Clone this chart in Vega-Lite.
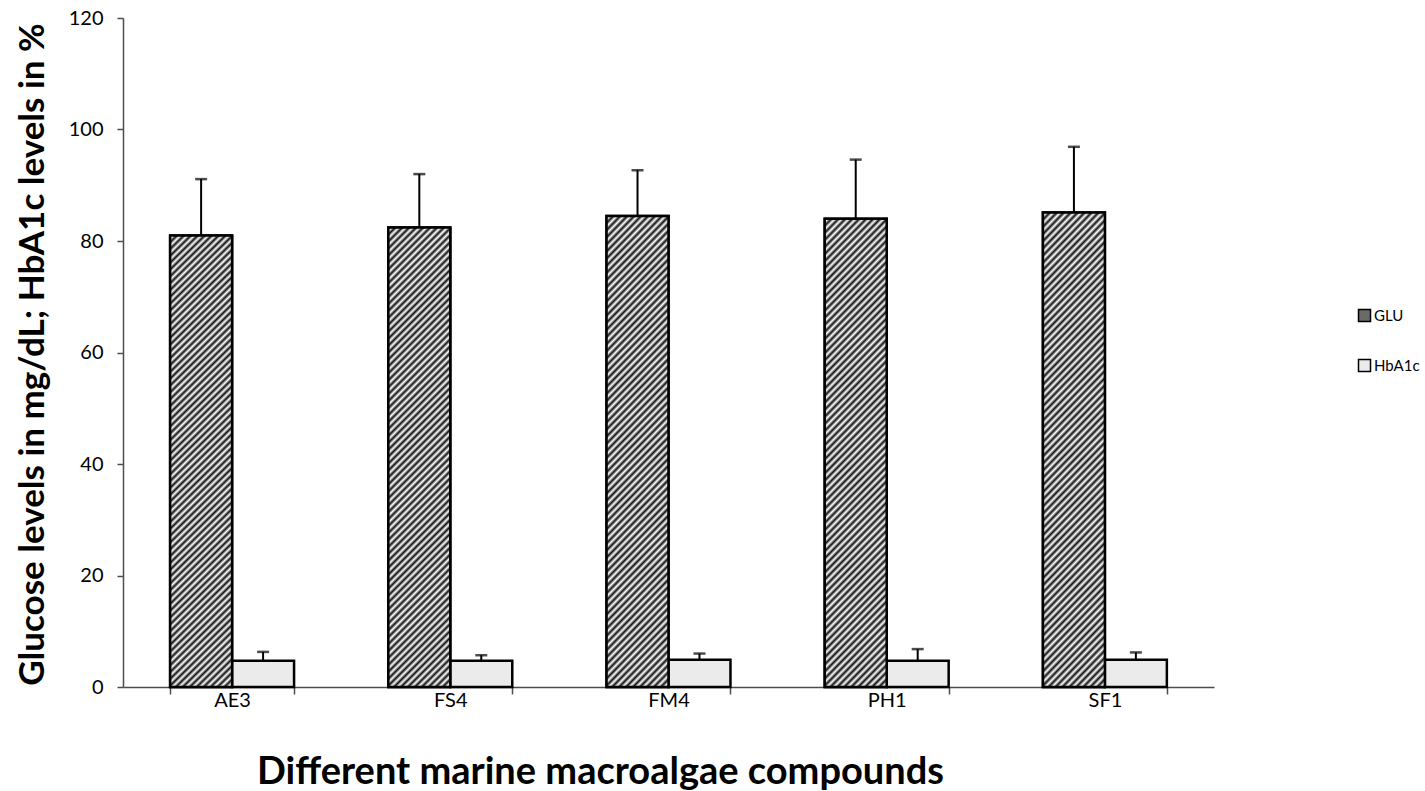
{
  "$schema": "https://vega.github.io/schema/vega-lite/v6.json",
  "autosize": {"type": "none"},
  "padding": {"left": 123, "top": 18, "right": 211, "bottom": 104},
  "width": 1091,
  "height": 669,
  "background": "white",
  "config": {
    "view": {"stroke": null},
    "font": "Lato",
    "axis": {
      "domainColor": "#4d4d4d",
      "domainWidth": 1.5,
      "tickColor": "#4d4d4d",
      "tickWidth": 1.5,
      "labelColor": "#000000",
      "labelFont": "Lato",
      "labelFontSize": 20,
      "titleColor": "#000000",
      "titleFont": "Lato",
      "titleFontWeight": "bold",
      "grid": false
    },
    "legend": {
      "orient": "none",
      "legendX": 1234,
      "legendY": 290,
      "padding": 0,
      "symbolType": "square",
      "symbolSize": 144,
      "symbolStrokeColor": "#000000",
      "symbolStrokeWidth": 1.5,
      "symbolOpacity": 1,
      "labelFont": "Lato",
      "labelFontSize": 15,
      "labelColor": "#000000",
      "labelOffset": 2,
      "rowPadding": 31
    }
  },
  "data": {
    "values": [
      {"compound": "AE3", "series": "GLU", "value": 81.0, "upper": 91.1},
      {"compound": "AE3", "series": "HbA1c", "value": 4.7, "upper": 6.3},
      {"compound": "FS4", "series": "GLU", "value": 82.4, "upper": 92.0},
      {"compound": "FS4", "series": "HbA1c", "value": 4.7, "upper": 5.7},
      {"compound": "FM4", "series": "GLU", "value": 84.5, "upper": 92.7},
      {"compound": "FM4", "series": "HbA1c", "value": 4.9, "upper": 6.0},
      {"compound": "PH1", "series": "GLU", "value": 84.0, "upper": 94.6},
      {"compound": "PH1", "series": "HbA1c", "value": 4.7, "upper": 6.8},
      {"compound": "SF1", "series": "GLU", "value": 85.1, "upper": 96.9},
      {"compound": "SF1", "series": "HbA1c", "value": 4.9, "upper": 6.2}
    ]
  },
  "encoding": {
    "x": {
      "field": "compound",
      "type": "nominal",
      "sort": ["AE3", "FS4", "FM4", "PH1", "SF1"],
      "scale": {"paddingInner": 0.432, "paddingOuter": 0.216},
      "axis": {
        "title": "Different marine macroalgae compounds",
        "labelAngle": 0,
        "tickBand": "extent",
        "tickSize": 7,
        "labelBaseline": "alphabetic",
        "labelPadding": 12,
        "titleFontSize": 38,
        "titleX": 477,
        "titleY": 96,
        "titleBaseline": "alphabetic",
        "titleAnchor": "middle"
      }
    },
    "xOffset": {"field": "series", "type": "nominal", "scale": {"domain": ["GLU", "HbA1c"]}},
    "y": {
      "field": "value",
      "type": "quantitative",
      "scale": {"domain": [0, 120], "nice": false},
      "axis": {
        "title": "Glucose levels in mg/dL; HbA1c levels in %",
        "values": [0, 20, 40, 60, 80, 100, 120],
        "tickSize": 6,
        "labelPadding": 14,
        "titleFontSize": 35,
        "titleAngle": 270,
        "titleX": -91,
        "titleY": 336,
        "titleAlign": "center",
        "titleBaseline": "middle"
      }
    }
  },
  "layer": [
    {
      "mark": {"type": "bar", "stroke": "#000000", "strokeWidth": 2.5},
      "encoding": {
        "fill": {
          "field": "series",
          "type": "nominal",
          "scale": {"domain": ["GLU", "HbA1c"], "range": ["#6a6a6a", "#ebebeb"]},
          "legend": {"title": null}
        }
      }
    },
    {
      "transform": [{"filter": "datum.series === 'GLU'"}],
      "mark": {
        "type": "bar",
        "stroke": "#000000",
        "strokeWidth": 2.5,
        "fill": {
          "gradient": "linear",
          "x1": 0, "y1": 0, "x2": 0.15, "y2": 1.113,
          "stops": [
            {"offset": 0, "color": "#111"}, {"offset": 0.0067, "color": "#fff"}, {"offset": 0.0133, "color": "#111"},
            {"offset": 0.02, "color": "#fff"}, {"offset": 0.0267, "color": "#111"}, {"offset": 0.0333, "color": "#fff"},
            {"offset": 0.04, "color": "#111"}, {"offset": 0.0467, "color": "#fff"}, {"offset": 0.0533, "color": "#111"},
            {"offset": 0.06, "color": "#fff"}, {"offset": 0.0667, "color": "#111"}, {"offset": 0.0733, "color": "#fff"},
            {"offset": 0.08, "color": "#111"}, {"offset": 0.0867, "color": "#fff"}, {"offset": 0.0933, "color": "#111"},
            {"offset": 0.1, "color": "#fff"}, {"offset": 0.1067, "color": "#111"}, {"offset": 0.1133, "color": "#fff"},
            {"offset": 0.12, "color": "#111"}, {"offset": 0.1267, "color": "#fff"}, {"offset": 0.1333, "color": "#111"},
            {"offset": 0.14, "color": "#fff"}, {"offset": 0.1467, "color": "#111"}, {"offset": 0.1533, "color": "#fff"},
            {"offset": 0.16, "color": "#111"}, {"offset": 0.1667, "color": "#fff"}, {"offset": 0.1733, "color": "#111"},
            {"offset": 0.18, "color": "#fff"}, {"offset": 0.1867, "color": "#111"}, {"offset": 0.1933, "color": "#fff"},
            {"offset": 0.2, "color": "#111"}, {"offset": 0.2067, "color": "#fff"}, {"offset": 0.2133, "color": "#111"},
            {"offset": 0.22, "color": "#fff"}, {"offset": 0.2267, "color": "#111"}, {"offset": 0.2333, "color": "#fff"},
            {"offset": 0.24, "color": "#111"}, {"offset": 0.2467, "color": "#fff"}, {"offset": 0.2533, "color": "#111"},
            {"offset": 0.26, "color": "#fff"}, {"offset": 0.2667, "color": "#111"}, {"offset": 0.2733, "color": "#fff"},
            {"offset": 0.28, "color": "#111"}, {"offset": 0.2867, "color": "#fff"}, {"offset": 0.2933, "color": "#111"},
            {"offset": 0.3, "color": "#fff"}, {"offset": 0.3067, "color": "#111"}, {"offset": 0.3133, "color": "#fff"},
            {"offset": 0.32, "color": "#111"}, {"offset": 0.3267, "color": "#fff"}, {"offset": 0.3333, "color": "#111"},
            {"offset": 0.34, "color": "#fff"}, {"offset": 0.3467, "color": "#111"}, {"offset": 0.3533, "color": "#fff"},
            {"offset": 0.36, "color": "#111"}, {"offset": 0.3667, "color": "#fff"}, {"offset": 0.3733, "color": "#111"},
            {"offset": 0.38, "color": "#fff"}, {"offset": 0.3867, "color": "#111"}, {"offset": 0.3933, "color": "#fff"},
            {"offset": 0.4, "color": "#111"}, {"offset": 0.4067, "color": "#fff"}, {"offset": 0.4133, "color": "#111"},
            {"offset": 0.42, "color": "#fff"}, {"offset": 0.4267, "color": "#111"}, {"offset": 0.4333, "color": "#fff"},
            {"offset": 0.44, "color": "#111"}, {"offset": 0.4467, "color": "#fff"}, {"offset": 0.4533, "color": "#111"},
            {"offset": 0.46, "color": "#fff"}, {"offset": 0.4667, "color": "#111"}, {"offset": 0.4733, "color": "#fff"},
            {"offset": 0.48, "color": "#111"}, {"offset": 0.4867, "color": "#fff"}, {"offset": 0.4933, "color": "#111"},
            {"offset": 0.5, "color": "#fff"}, {"offset": 0.5067, "color": "#111"}, {"offset": 0.5133, "color": "#fff"},
            {"offset": 0.52, "color": "#111"}, {"offset": 0.5267, "color": "#fff"}, {"offset": 0.5333, "color": "#111"},
            {"offset": 0.54, "color": "#fff"}, {"offset": 0.5467, "color": "#111"}, {"offset": 0.5533, "color": "#fff"},
            {"offset": 0.56, "color": "#111"}, {"offset": 0.5667, "color": "#fff"}, {"offset": 0.5733, "color": "#111"},
            {"offset": 0.58, "color": "#fff"}, {"offset": 0.5867, "color": "#111"}, {"offset": 0.5933, "color": "#fff"},
            {"offset": 0.6, "color": "#111"}, {"offset": 0.6067, "color": "#fff"}, {"offset": 0.6133, "color": "#111"},
            {"offset": 0.62, "color": "#fff"}, {"offset": 0.6267, "color": "#111"}, {"offset": 0.6333, "color": "#fff"},
            {"offset": 0.64, "color": "#111"}, {"offset": 0.6467, "color": "#fff"}, {"offset": 0.6533, "color": "#111"},
            {"offset": 0.66, "color": "#fff"}, {"offset": 0.6667, "color": "#111"}, {"offset": 0.6733, "color": "#fff"},
            {"offset": 0.68, "color": "#111"}, {"offset": 0.6867, "color": "#fff"}, {"offset": 0.6933, "color": "#111"},
            {"offset": 0.7, "color": "#fff"}, {"offset": 0.7067, "color": "#111"}, {"offset": 0.7133, "color": "#fff"},
            {"offset": 0.72, "color": "#111"}, {"offset": 0.7267, "color": "#fff"}, {"offset": 0.7333, "color": "#111"},
            {"offset": 0.74, "color": "#fff"}, {"offset": 0.7467, "color": "#111"}, {"offset": 0.7533, "color": "#fff"},
            {"offset": 0.76, "color": "#111"}, {"offset": 0.7667, "color": "#fff"}, {"offset": 0.7733, "color": "#111"},
            {"offset": 0.78, "color": "#fff"}, {"offset": 0.7867, "color": "#111"}, {"offset": 0.7933, "color": "#fff"},
            {"offset": 0.8, "color": "#111"}, {"offset": 0.8067, "color": "#fff"}, {"offset": 0.8133, "color": "#111"},
            {"offset": 0.82, "color": "#fff"}, {"offset": 0.8267, "color": "#111"}, {"offset": 0.8333, "color": "#fff"},
            {"offset": 0.84, "color": "#111"}, {"offset": 0.8467, "color": "#fff"}, {"offset": 0.8533, "color": "#111"},
            {"offset": 0.86, "color": "#fff"}, {"offset": 0.8667, "color": "#111"}, {"offset": 0.8733, "color": "#fff"},
            {"offset": 0.88, "color": "#111"}, {"offset": 0.8867, "color": "#fff"}, {"offset": 0.8933, "color": "#111"},
            {"offset": 0.9, "color": "#fff"}, {"offset": 0.9067, "color": "#111"}, {"offset": 0.9133, "color": "#fff"},
            {"offset": 0.92, "color": "#111"}, {"offset": 0.9267, "color": "#fff"}, {"offset": 0.9333, "color": "#111"},
            {"offset": 0.94, "color": "#fff"}, {"offset": 0.9467, "color": "#111"}, {"offset": 0.9533, "color": "#fff"},
            {"offset": 0.96, "color": "#111"}, {"offset": 0.9667, "color": "#fff"}, {"offset": 0.9733, "color": "#111"},
            {"offset": 0.98, "color": "#fff"}, {"offset": 0.9867, "color": "#111"}, {"offset": 0.9933, "color": "#fff"},
            {"offset": 1, "color": "#111"}
          ]
        }
      }
    },
    {
      "mark": {"type": "rule", "color": "#000000", "strokeWidth": 2},
      "encoding": {
        "y2": {"field": "upper"}
      }
    },
    {
      "mark": {"type": "tick", "color": "#000000", "size": 12, "thickness": 2.5},
      "encoding": {
        "y": {"field": "upper", "type": "quantitative"}
      }
    }
  ]
}
